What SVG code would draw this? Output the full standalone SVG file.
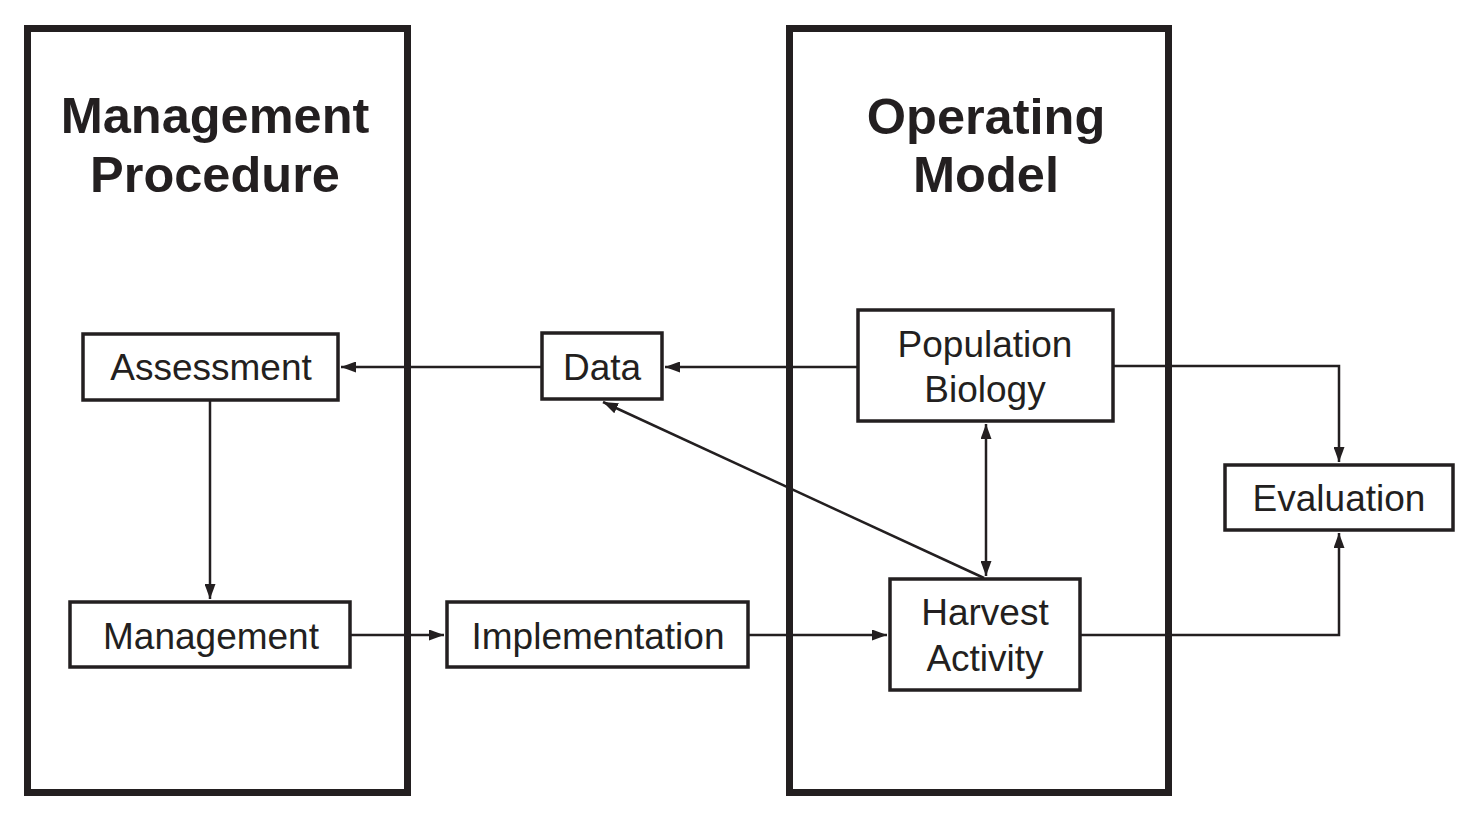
<svg xmlns="http://www.w3.org/2000/svg" width="1473" height="822" viewBox="0 0 1473 822">
<style>
.big{fill:none;stroke:#231f20;stroke-width:7}
.box{fill:#fff;stroke:#231f20;stroke-width:3.5}
.t{font-family:"Liberation Sans",Arial,sans-serif;font-size:37px;fill:#231f20;text-anchor:middle}
.h{font-family:"Liberation Sans",Arial,sans-serif;font-size:50.5px;font-weight:bold;fill:#231f20;text-anchor:middle}
.c{fill:none;stroke:#231f20;stroke-width:2.5}
</style>
<defs>
<marker id="a" viewBox="0 0 15 11" refX="15" refY="5.5" markerWidth="15" markerHeight="11" markerUnits="userSpaceOnUse" orient="auto-start-reverse">
<path d="M0,0 L15,5.5 L0,11 z" fill="#231f20"/>
</marker>
</defs>
<rect width="1473" height="822" fill="#fff"/>
<g id="management-procedure">
<rect class="big" x="27.5" y="28.5" width="380" height="764"/>
<text class="h" x="215" y="133">Management</text>
<text class="h" x="215" y="192">Procedure</text>
</g>
<g id="operating-model">
<rect class="big" x="789.5" y="28.5" width="379" height="764"/>
<text class="h" x="986" y="134">Operating</text>
<text class="h" x="986" y="192">Model</text>
</g>
<g id="connectors">
<line class="c" x1="857" y1="367" x2="665" y2="367" marker-end="url(#a)"/>
<line class="c" x1="541" y1="367" x2="341" y2="367" marker-end="url(#a)"/>
<line class="c" x1="210" y1="400" x2="210" y2="599" marker-end="url(#a)"/>
<line class="c" x1="351" y1="635" x2="444" y2="635" marker-end="url(#a)"/>
<line class="c" x1="749" y1="635" x2="887" y2="635" marker-end="url(#a)"/>
<line class="c" x1="986" y1="424" x2="986" y2="576" marker-start="url(#a)" marker-end="url(#a)"/>
<line class="c" x1="984" y1="578" x2="603" y2="402" marker-end="url(#a)"/>
<polyline class="c" points="1114,366 1339,366 1339,462" marker-end="url(#a)"/>
<polyline class="c" points="1081,635 1339,635 1339,533" marker-end="url(#a)"/>
</g>
<g id="assessment">
<rect class="box" x="83" y="334" width="255" height="66"/>
<text class="t" x="211" y="380">Assessment</text>
</g>
<g id="data">
<rect class="box" x="542" y="333" width="120" height="66"/>
<text class="t" x="602" y="380">Data</text>
</g>
<g id="population-biology">
<rect class="box" x="858" y="310" width="255" height="111"/>
<text class="t" x="985" y="357">Population</text>
<text class="t" x="985" y="402">Biology</text>
</g>
<g id="evaluation">
<rect class="box" x="1225" y="465" width="228" height="65"/>
<text class="t" x="1339" y="511">Evaluation</text>
</g>
<g id="management">
<rect class="box" x="70" y="602" width="280" height="65"/>
<text class="t" x="211" y="649">Management</text>
</g>
<g id="implementation">
<rect class="box" x="447" y="602" width="301" height="65"/>
<text class="t" x="598" y="649">Implementation</text>
</g>
<g id="harvest-activity">
<rect class="box" x="890" y="579" width="190" height="111"/>
<text class="t" x="985" y="625">Harvest</text>
<text class="t" x="985" y="671">Activity</text>
</g>
</svg>
